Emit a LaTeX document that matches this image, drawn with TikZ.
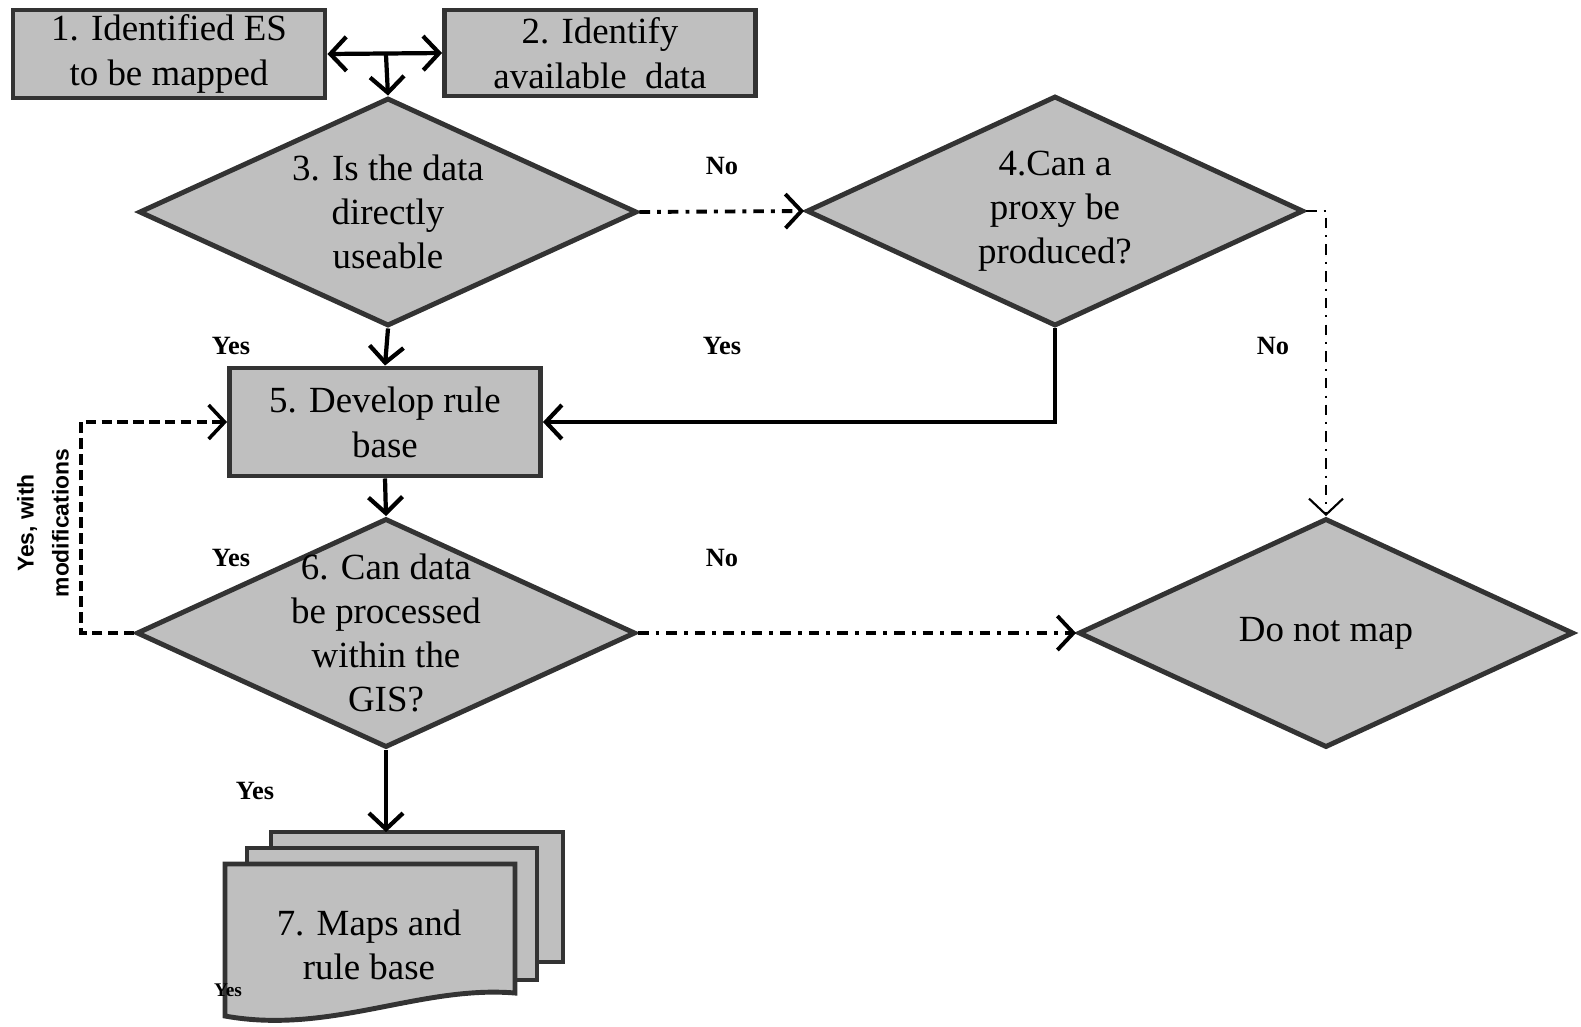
\documentclass[tikz,border=0pt]{standalone}
\usepackage{fontspec}
\setmainfont{Liberation Serif}
\setsansfont{Liberation Sans}
\usetikzlibrary{shapes.geometric,arrows.meta}

\begin{document}
\begin{tikzpicture}[
        x=0.1mm, y=-0.1mm,
        box/.style = {rectangle, draw=black!80, fill=black!25, line width=1.4pt, inner sep=0pt, align=center, font=\fontsize{10.5}{12.8}\selectfont},
        decision/.style = {diamond, draw=black!80, fill=black!25, line width=1.4pt, inner sep=0pt},
        txt/.style = {align=center, inner sep=0pt, font=\fontsize{10.5}{12.6}\selectfont},
        doc/.style = {draw=black!80, fill=black!25, line width=1.4pt},
        lbl/.style = {font=\fontsize{7.5}{9}\selectfont\bfseries},
        flow/.style = {line width=1.2pt, -{Straight Barb[length=1.6mm,width=3.4mm]}},
        nopath/.style = {line width=1.1pt, dash dot, -{Straight Barb[length=1.6mm,width=3.4mm]}},
        thick
    ]
        \useasboundingbox (0,0) rectangle (1581,1026);

        % boxes and decisions
        \node[box, minimum width=31.2mm, minimum height=8.8mm] (es) at (169,54) {1. Identified ES\\to be mapped};
        \node[box, minimum width=31.1mm, minimum height=8.6mm] (data) at (600,53) {2. Identify\\available\ \ data};
        \node[decision, minimum width=49.8mm, minimum height=22.8mm,
              label={[txt]center:{3. Is the data\\directly\\useable}}] (use) at (388,212) {};
        \node[decision, minimum width=49.7mm, minimum height=23mm,
              label={[txt]center:{4.Can a\\proxy be\\produced?}}] (proxy) at (1055,211) {};
        \node[box, minimum width=31.1mm, minimum height=10.8mm] (rule) at (385,422) {5. Develop rule\\base};
        \node[decision, minimum width=49.9mm, minimum height=22.9mm,
              label={[txt]center:{6. Can data\\be processed\\within the\\GIS?}}] (gis) at (386,633) {};
        \node[decision, minimum width=49.5mm, minimum height=22.9mm,
              label={[txt]center:{Do not map}}] (nomap) at (1326,633) {};

        % stacked documents
        \filldraw[doc] (271,832) rectangle (563,962);
        \filldraw[doc] (247,848) rectangle (537,980);
        \filldraw[doc] (225,864) -- (515,864) -- (515,993)
            .. controls (420,985) and (330,1035) .. (225,1016) -- cycle;
        \node[txt] (maps) at (369,945) {7. Maps and\\rule base};
        \coordinate (mapstop) at (386,832);

        % connectors
        \coordinate (fork) at (386,55);
        \draw[line width=1.2pt, {Straight Barb[length=1.6mm,width=3.4mm]}-{Straight Barb[length=1.6mm,width=3.4mm]}] (es.east) -- (data.west);
        \draw[flow] (fork) -- (use.north);
        \draw[flow] (use.south) -- (rule.north);
        \draw[flow] (rule.south) -- (gis.north);
        \draw[flow] (gis.south) -- (mapstop);
        \draw[flow] (proxy.south) |- (rule.east);
        \draw[nopath] (use.east) -- (proxy.west);
        \draw[nopath] (gis.east) -- (nomap.west);
        \draw[line width=0.6pt, dash dot, -{Straight Barb[length=1.6mm,width=3.4mm]}] (proxy.east) -| (nomap.north);
        \draw[line width=1pt, dashed, dash pattern=on 3pt off 1.5pt, -{Straight Barb[length=1.6mm,width=3.4mm]}]
            (gis.west) -- (81,633) |- (rule.west);

        % branch labels
        \node[lbl] (l1) at (722,166) {No};
        \node[lbl] (l2) at (231,346) {Yes};
        \node[lbl] (l3) at (722,346) {Yes};
        \node[lbl] (l4) at (1273,346) {No};
        \node[lbl] (l5) at (231,558) {Yes};
        \node[lbl] (l6) at (722,558) {No};
        \node[lbl] (l7) at (255,791) {Yes};
        \node[lbl, font=\fontsize{5.5}{6}\selectfont\bfseries] (l8) at (228,990) {Yes};
        \node[rotate=90, align=center, font=\sffamily\bfseries\fontsize{6.5}{10}\selectfont] (mod) at (43,523) {Yes, with\\modifications};
    \end{tikzpicture}
\end{document}
